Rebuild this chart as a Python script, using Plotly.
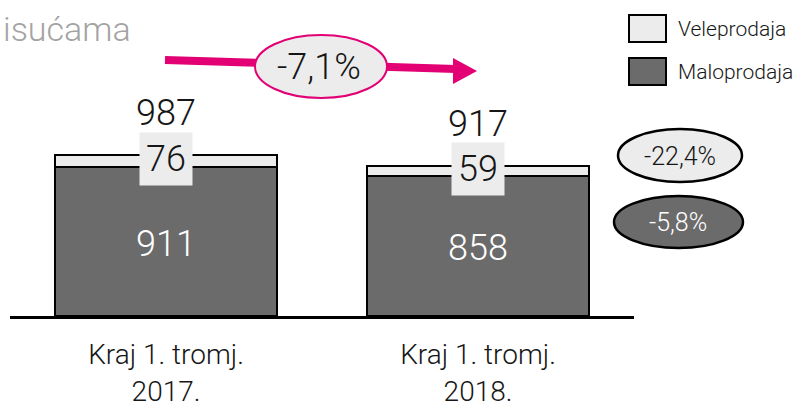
import plotly.graph_objects as go

categories = ["Kraj 1. tromj.<br>2017.", "Kraj 1. tromj.<br>2018."]
maloprodaja = [911, 858]
veleprodaja = [76, 59]
totals = [987, 917]
title_text = "isućama"
total_change = "-7,1%"
vele_change = "-22,4%"
malo_change = "-5,8%"
series_names = ["Veleprodaja", "Maloprodaja"]

FONT = "Roboto, sans-serif"
LIGHT = "#ececec"
DARK = "#6b6b6b"
MAGENTA = "#e20074"
INK = "#161616"

W, H = 800, 408
L, R, T, B = 10, 166, 0, 92
PW, PH = W - L - R, H - T - B

def px(x):
    return (x - L) / PW

def py(y):
    return (H - B - y) / PH

def f(size, color=INK):
    return dict(size=size, family=FONT, color=color, weight=300)

fig = go.Figure()
fig.add_trace(go.Bar(
    x=categories, y=maloprodaja, name=series_names[1],
    marker=dict(color=DARK, line=dict(color="black", width=2)),
    width=0.71, showlegend=False, hoverinfo="skip",
))
fig.add_trace(go.Bar(
    x=categories, y=veleprodaja, name=series_names[0],
    marker=dict(color=LIGHT, line=dict(color="black", width=2)),
    width=0.71, showlegend=False, hoverinfo="skip",
))

# value labels
for c, m, v, t in zip(categories, maloprodaja, veleprodaja, totals):
    fig.add_annotation(x=c, y=m / 2, xref="x", yref="y", text=str(m),
                       showarrow=False, xanchor="center", yanchor="middle", yshift=-2,
                       font=f(36, "white"))
    fig.add_annotation(x=c, y=m + v / 2, xref="x", yref="y", text=str(v),
                       showarrow=False, bgcolor=LIGHT, width=50, height=50, borderpad=1,
                       xanchor="center", yanchor="middle", yshift=2,
                       font=f(36))
    fig.add_annotation(x=c, y=t, xref="x", yref="y", text=str(t),
                       showarrow=False, xanchor="center", yanchor="middle", yshift=42,
                       font=f(36))

shapes = []
# magenta arrow
shapes.append(dict(type="line", xref="paper", yref="paper",
                   x0=px(165), y0=py(60), x1=px(456), y1=py(69),
                   line=dict(color=MAGENTA, width=8)))
shapes.append(dict(type="path", xref="paper", yref="paper",
                   path=f"M {px(453)},{py(58)} L {px(477)},{py(71)} L {px(453)},{py(84)} Z",
                   fillcolor=MAGENTA, line=dict(width=0)))
# -7,1% ellipse
shapes.append(dict(type="circle", xref="paper", yref="paper",
                   x0=px(255), x1=px(387), y0=py(35), y1=py(98),
                   fillcolor=LIGHT, line=dict(color=MAGENTA, width=2)))
# right ellipses
shapes.append(dict(type="circle", xref="paper", yref="paper",
                   x0=px(618), x1=px(742), y0=py(129), y1=py(182),
                   fillcolor=LIGHT, line=dict(color="black", width=2.5)))
shapes.append(dict(type="circle", xref="paper", yref="paper",
                   x0=px(614), x1=px(743), y0=py(196), y1=py(248),
                   fillcolor=DARK, line=dict(color="black", width=2.5)))
# legend boxes
shapes.append(dict(type="rect", xref="paper", yref="paper",
                   x0=px(629), x1=px(666), y0=py(15), y1=py(42),
                   fillcolor=LIGHT, line=dict(color="black", width=2)))
shapes.append(dict(type="rect", xref="paper", yref="paper",
                   x0=px(629), x1=px(666), y0=py(58), y1=py(85),
                   fillcolor=DARK, line=dict(color="black", width=2)))
fig.update_layout(shapes=shapes)

def ann(x, y, text, font, xanchor="center"):
    fig.add_annotation(x=px(x), y=py(y), xref="paper", yref="paper", text=text,
                       showarrow=False, xanchor=xanchor, yanchor="middle", font=font)

ann(319, 67, total_change, f(36))
ann(680, 156, vele_change, f(25))
ann(678, 222, malo_change, f(25, "white"))
ann(676, 29, series_names[0], f(21), xanchor="left")
ann(676, 72, series_names[1], f(21), xanchor="left")
ann(1, 29, title_text, f(34, "#a3a3a3"), xanchor="left")

fig.update_layout(
    width=W, height=H, margin=dict(l=L, r=R, t=T, b=B),
    barmode="stack", bargap=0.29,
    plot_bgcolor="white", paper_bgcolor="white",
    xaxis=dict(showline=True, linecolor="black", linewidth=2.5, ticks="",
               tickfont=f(28), ticklabelstandoff=12),
    yaxis=dict(visible=False, range=[0, 1937]),
    showlegend=False,
)
fig.write_html("out.html", config={"displayModeBar": False},
               post_script="document.body.style.margin='0';")
